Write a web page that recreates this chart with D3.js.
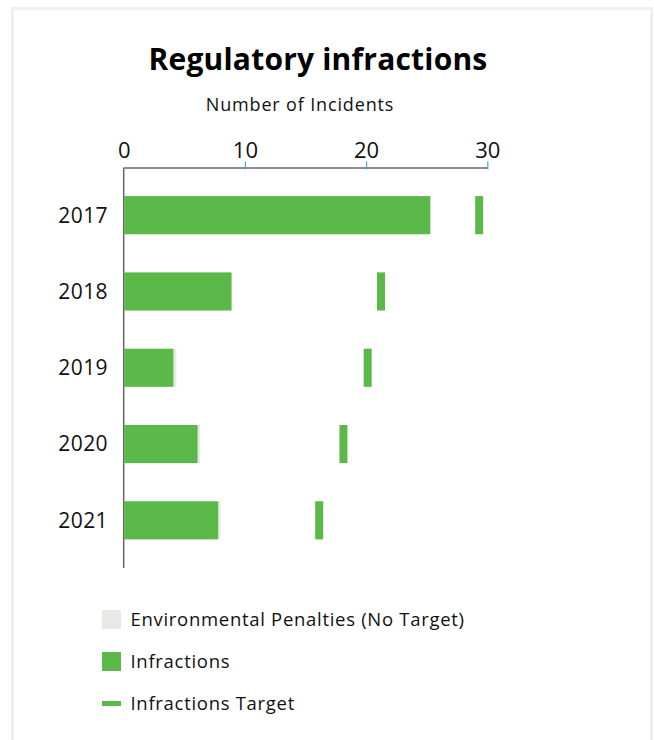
<!DOCTYPE html>
<html>
<head>
<meta charset="utf-8">
<script src="https://cdn.jsdelivr.net/npm/d3@7"></script>
<style>
  html, body { margin: 0; padding: 0; background: #ffffff; }
  svg { display: block; font-family: "Open Sans", "Noto Sans", sans-serif; }
</style>
</head>
<body>
<svg id="chart" width="654" height="740"></svg>
<script>
// Regulatory infractions per year, with the yearly target
const years = ["2017", "2018", "2019", "2020", "2021"];
const infractions = [25.3, 8.9, 4.1, 6.1, 7.8];
const environmentalPenalties = [0, 0, 0.25, 0.2, 0.2];
const infractionsTarget = [29.0, 20.9, 19.8, 17.8, 15.8];
const xTicks = [0, 10, 20, 30];
const legendItems = ["Environmental Penalties (No Target)", "Infractions", "Infractions Target"];

const green = "#5bb94a";
const lightGray = "#e8e8e6";

const svg = d3.select("#chart");

// card frame
svg.append("rect")
  .attr("x", 12.5).attr("y", 8.5)
  .attr("width", 639).attr("height", 760)
  .attr("fill", "#fff")
  .attr("stroke", "#efefef").attr("stroke-width", 3);

svg.append("text")
  .attr("x", 318).attr("y", 70)
  .attr("text-anchor", "middle")
  .attr("font-size", 30).attr("font-weight", 700)
  .attr("letter-spacing", 0.2)
  .attr("fill", "#000")
  .text("Regulatory infractions");

const x = d3.scaleLinear().domain([0, 30]).range([123.7, 487.3]);
const y = d3.scaleBand().domain(years).range([167.5, 568])
  .paddingInner(0.5).paddingOuter(0.375);

svg.append("text")
  .attr("x", 300).attr("y", 111)
  .attr("text-anchor", "middle")
  .attr("font-size", 18).attr("letter-spacing", 0.85).attr("fill", "#111")
  .text("Number of Incidents");

// top axis
const xAxis = svg.append("g")
  .attr("transform", `translate(0,${167.5})`)
  .call(d3.axisTop(x).tickValues(xTicks).tickSize(6).tickSizeOuter(0).tickPadding(4));
xAxis.select(".domain").attr("stroke", "#666").attr("stroke-width", 1.5);
xAxis.selectAll(".tick line")
  .attr("stroke", "#5aa7cc").attr("stroke-width", 1.3)
  .attr("y1", 2)
  .filter(d => d === 0).remove();
xAxis.selectAll(".tick text")
  .attr("font-size", 22).attr("fill", "#111")
  .attr("font-family", "\"Open Sans\", sans-serif");

// left axis line
svg.append("line")
  .attr("x1", x(0)).attr("x2", x(0))
  .attr("y1", 167.5).attr("y2", 568)
  .attr("stroke", "#666").attr("stroke-width", 1.5);

// year labels
svg.append("g").selectAll("text")
  .data(years).join("text")
  .attr("x", 108)
  .attr("y", d => y(d) + y.bandwidth() / 2)
  .attr("dy", "0.35em")
  .attr("text-anchor", "end")
  .attr("font-size", 21).attr("letter-spacing", 0.4).attr("fill", "#111")
  .text(d => d);

const rows = years.map((yr, i) => ({
  year: yr,
  inf: infractions[i],
  env: environmentalPenalties[i],
  target: infractionsTarget[i]
}));

// environmental penalties stacked after infractions
svg.append("g").selectAll("rect")
  .data(rows).join("rect")
  .attr("x", d => x(d.inf))
  .attr("y", d => y(d.year))
  .attr("width", d => x(d.inf + d.env) - x(d.inf))
  .attr("height", y.bandwidth())
  .attr("fill", lightGray);

// infractions bars
svg.append("g").selectAll("rect")
  .data(rows).join("rect")
  .attr("x", x(0) + 0.5)
  .attr("y", d => y(d.year))
  .attr("width", d => x(d.inf) - x(0) - 0.5)
  .attr("height", y.bandwidth())
  .attr("fill", green);

// target markers
svg.append("g").selectAll("rect")
  .data(rows).join("rect")
  .attr("x", d => x(d.target))
  .attr("y", d => y(d.year))
  .attr("width", 8)
  .attr("height", y.bandwidth())
  .attr("fill", green);

// legend
const legend = svg.append("g").attr("transform", "translate(102,610)");
const li = legend.selectAll("g").data(legendItems).join("g")
  .attr("transform", (d, i) => `translate(0,${i * 42})`);
li.each(function(d, i) {
  const g = d3.select(this);
  if (i === 2) {
    g.append("rect").attr("x", 0).attr("y", 7).attr("width", 19).attr("height", 5).attr("fill", green);
  } else {
    g.append("rect").attr("x", 0).attr("y", 0).attr("width", 19).attr("height", 19)
      .attr("fill", i === 0 ? lightGray : green);
  }
  g.append("text")
    .attr("x", 28.5).attr("y", 9.5).attr("dy", "0.35em")
    .attr("font-size", 18.5).attr("letter-spacing", 0.7).attr("fill", "#111")
    .text(d);
});
</script>
</body>
</html>
